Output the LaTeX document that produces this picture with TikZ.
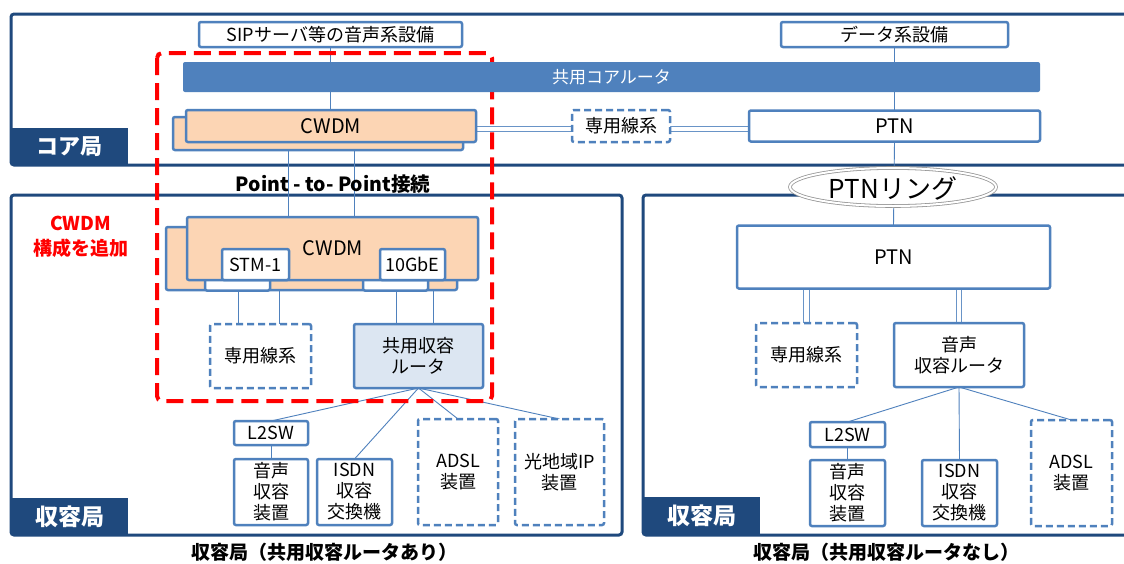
\documentclass[tikz,border=0pt]{standalone}
\usepackage{fontspec}
\setmainfont{Noto Sans CJK JP}
\usetikzlibrary{shapes.geometric,calc}
\definecolor{navy}{RGB}{31,73,125}
\definecolor{mblue}{RGB}{79,129,189}
\definecolor{peach}{RGB}{252,213,180}
\definecolor{lblue}{RGB}{220,230,242}
\definecolor{ringgray}{RGB}{150,150,150}
\pgfdeclarelayer{bgfill}
\pgfdeclarelayer{lines}
\pgfsetlayers{bgfill,lines,main}
\begin{document}
\begin{tikzpicture}[x=1pt,y=-1pt,
  every node/.style={inner sep=0pt, outer sep=0pt, font=\fontsize{18}{21}\selectfont, align=center},
  frm/.style={draw=navy, line width=3pt, rounded corners=3pt},
  lab/.style={text=white, font=\fontsize{23}{26}\selectfont\bfseries},
  bx/.style={draw=mblue, line width=2.5pt, fill=white, rounded corners=2pt},
  dbx/.style={bx, dash pattern=on 7pt off 4pt},
  cw/.style={bx, fill=peach},
  big/.style={font=\fontsize{20}{23}\selectfont},
  port/.style={bx, font=\fontsize{18}{21}\selectfont},
  ln/.style={draw=mblue, line width=0.9pt},
  dln/.style={draw=mblue!85, line width=0.8pt, double=white, double distance=4.5pt},
  captxt/.style={font=\fontsize{19}{22}\selectfont\bfseries},
]
\useasboundingbox (0,0) rectangle (1124,563);
\clip (0,0) rectangle (1124,563);
\begin{pgfonlayer}{bgfill}
\fill[white] (0,0) rectangle (1124,563);
\draw[frm] (11,14) rectangle (1140,165);
\draw[frm] (11,195) rectangle (622,535);
\draw[frm] (643,195) rectangle (1140,535);
\fill[navy] (11,128) rectangle (128,165);
\fill[navy] (11,498) rectangle (128,535);
\fill[navy] (643,497) rectangle (760,535);
\end{pgfonlayer}
\node[lab, font=\fontsize{22}{26}\selectfont\bfseries] (lblcore) at (69.5,146.5) {コア局};
\node[lab] (lblL) at (69.5,516.5) {収容局};
\node[lab] (lblR) at (701.5,516) {収容局};

% red dashed (under the core router bar)
\draw[red, line width=4pt, dash pattern=on 17pt off 8pt, rounded corners=5pt] (157,53) rectangle (492,401);

% core
\node[bx, minimum width=263pt, minimum height=25pt] (sip) at (330.5,34.5) {SIPサーバ等の音声系設備};
\node[bx, minimum width=227pt, minimum height=25pt] (data) at (894.5,34.5) {データ系設備};
\node[fill=mblue, rounded corners=2pt, minimum width=857pt, minimum height=30pt, text=white, font=\fontsize{17}{20}\selectfont] (bar) at (611.5,77) {共用コアルータ};
\node[cw, minimum width=290pt, minimum height=33pt] (cwdmAb) at (318,133.5) {};
\node[cw, big, minimum width=290pt, minimum height=32pt] (cwdmAf) at (331,126) {CWDM};
\node[dbx, minimum width=98pt, minimum height=32pt] (sen1) at (621,126) {専用線系};
\node[bx, big, minimum width=291pt, minimum height=31pt] (ptn1) at (894.5,126) {PTN};
\node[font=\fontsize{19.5}{22}\selectfont\bfseries] (p2p) at (333,184) {Point - to- Point接続};

% left access
\node[text=red, font=\fontsize{19}{25}\selectfont\bfseries] (add) at (80.5,237) {CWDM\\構成を追加};
\node[cw, minimum width=291pt, minimum height=63pt] (cwdmBb) at (311.5,258.5) {};
\node[port, minimum width=65pt, minimum height=31pt] (stmb) at (237.5,275) {};
\node[port, minimum width=65pt, minimum height=31pt] (gbeb) at (395.5,275) {};
\node[cw, minimum width=291pt, minimum height=63pt] (cwdmBf) at (332.5,248.5) {};
\node[big] (cwdmBt) at (333,248) {CWDM};
\node[port, minimum width=67pt, minimum height=31pt] (stm) at (255.5,264.5) {STM-1};
\node[port, minimum width=65pt, minimum height=31pt] (gbe) at (412.5,264.5) {10GbE};
\node[dbx, minimum width=101pt, minimum height=64pt] (sen2) at (260.5,356) {専用線系};
\node[bx, fill=lblue, minimum width=129pt, minimum height=64pt] (kyo) at (418.5,356) {共用収容\\ルータ};
\node[bx, minimum width=74pt, minimum height=24pt] (l2a) at (271,433) {L2SW};
\node[bx, minimum width=74pt, minimum height=66pt] (vca) at (271,492) {音声\\収容\\装置};
\node[bx, minimum width=75pt, minimum height=66pt] (isa) at (354.5,492) {ISDN\\収容\\交換機};
\node[dbx, minimum width=80pt, minimum height=106pt] (adsla) at (458,472) {ADSL\\装置};
\node[dbx, minimum width=89pt, minimum height=106pt] (hika) at (559.5,472) {光地域IP\\装置};

% right access
\node[bx, big, minimum width=313pt, minimum height=63pt] (ptn2) at (893.5,257) {PTN};
\node[dbx, minimum width=101pt, minimum height=64pt] (sen3) at (806.5,355) {専用線系};
\node[bx, minimum width=130pt, minimum height=64pt] (vcr) at (959,355) {音声\\収容ルータ};
\node[bx, minimum width=75pt, minimum height=25pt] (l2b) at (847.5,434.5) {L2SW};
\node[bx, minimum width=75pt, minimum height=66pt] (vcb) at (847.5,493) {音声\\収容\\装置};
\node[bx, minimum width=75pt, minimum height=66pt] (isb) at (959.5,493) {ISDN\\収容\\交換機};
\node[dbx, minimum width=81pt, minimum height=106pt] (adslb) at (1071.5,473) {ADSL\\装置};

% ring
\node[ellipse, draw=ringgray, line width=0.8pt, double=white, double distance=2pt, fill=white, minimum width=206pt, minimum height=38pt] (ring) at (893,187) {};
\node[font=\fontsize{26}{29}\selectfont] (ringt) at (893,188) {PTNリング};

% captions
\node[captxt] (capL) at (324,552) {収容局（共用収容ルータあり）};
\node[captxt] (capR) at (886,552) {収容局（共用収容ルータなし）};

\coordinate (q1) at ($(cwdmAb.south)+(-30,0)$);
\coordinate (q2) at ($(cwdmAb.south)+(36,0)$);
\coordinate (p1) at ($(sen2.north)+(-22.5,0)$);
\coordinate (p2) at ($(sen2.north)+(18.5,0)$);
\coordinate (p3) at ($(kyo.north)+(-22.5,0)$);
\coordinate (p4) at ($(kyo.north)+(14.5,0)$);

\begin{pgfonlayer}{lines}
\draw[ln] (sip.south) -- (sip.south |- bar.north);
\draw[ln] (sip.south |- bar.south) -- (sip.south |- cwdmAf.north);
\draw[ln] (data.south) -- (data.south |- bar.north);
\draw[ln] (data.south |- bar.south) -- (data.south |- ptn1.north);
\draw[dln] ([yshift=-3pt]cwdmAf.east) -- ([yshift=-3pt]sen1.west);
\draw[dln] ([yshift=-3pt]sen1.east) -- ([yshift=-3pt]ptn1.west);
\draw[ln] (q1) -- (q1 |- cwdmBf.north);
\draw[ln] (q2) -- (q2 |- cwdmBf.north);
\draw[ln] (ptn1.south) -- (ptn2.north);
\draw[ln] (p1 |- cwdmBb.south) -- (p1);
\draw[ln] (p2 |- cwdmBb.south) -- (p2);
\draw[ln] (p3 |- cwdmBb.south) -- (p3);
\draw[ln] (p4 |- cwdmBb.south) -- (p4);
\draw[ln] (kyo.south) -- (l2a.north);
\draw[ln] (kyo.south) -- (isa.north);
\draw[ln] (kyo.south) -- (adsla.north);
\draw[ln] (kyo.south) -- (hika.north);
\draw[ln] (l2a.south) -- (vca.north);
\draw[dln] (sen3.north |- ptn2.south) -- (sen3.north);
\draw[dln] (vcr.north |- ptn2.south) -- (vcr.north);
\draw[ln] (vcr.south) -- (l2b.north);
\draw[ln] (vcr.south) -- (isb.north);
\draw[ln] (vcr.south) -- (adslb.north);
\draw[ln] (l2b.south) -- (vcb.north);
\end{pgfonlayer}
\end{tikzpicture}
\end{document}
